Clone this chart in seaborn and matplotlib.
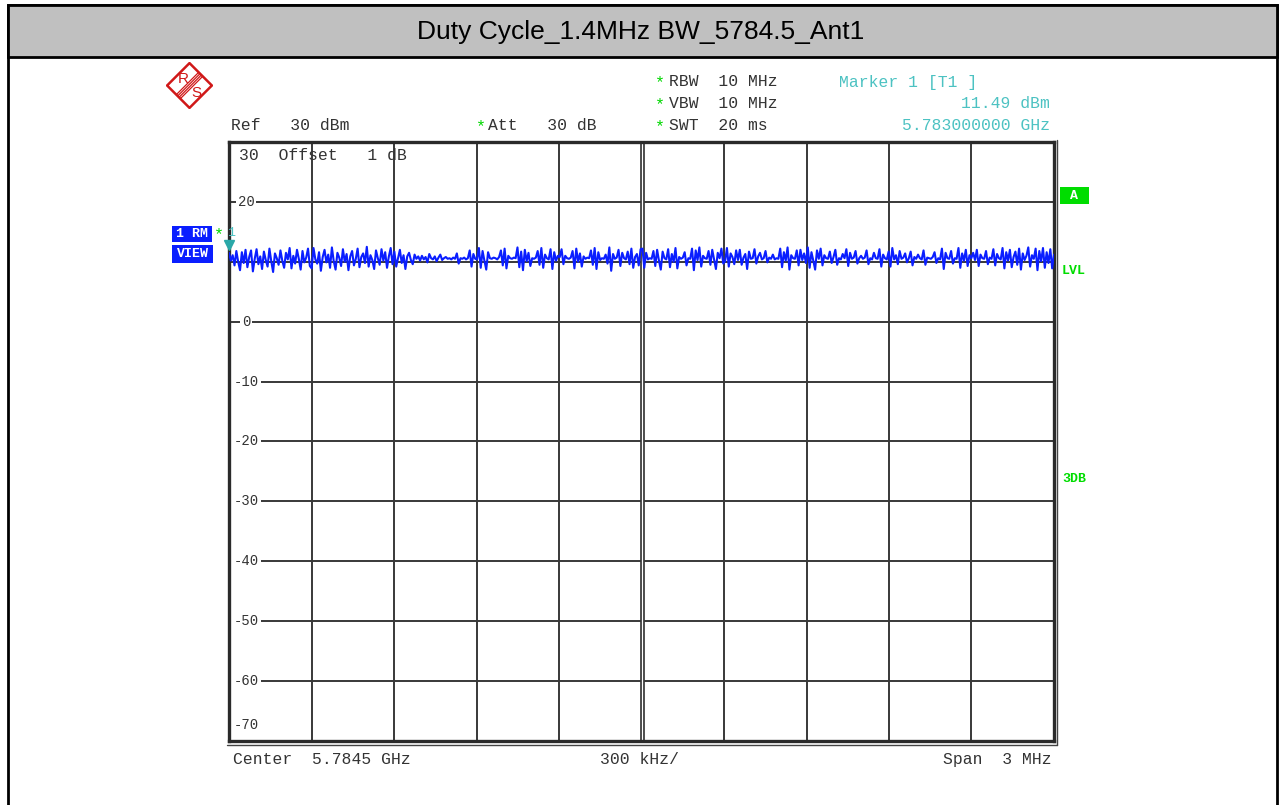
import numpy as np
import pandas as pd
import seaborn as sns
import matplotlib.pyplot as plt
import matplotlib.transforms as mtransforms
from matplotlib.patches import Rectangle, Polygon
from matplotlib.lines import Line2D

# trace levels (dBm), one list per horizontal division
trace_div1 = [11.49, 10.2, 11.1, 9.4, 11.8, 10.0, 8.6, 11.6, 9.8, 12.0, 9.1, 10.8, 11.9, 8.4, 10.5,
              12.1, 9.6, 10.9, 8.8, 11.7, 10.3, 9.2, 12.2, 10.1, 8.3, 11.4, 10.6, 9.5, 11.9, 10.2,
              9.0, 11.5, 10.4, 12.3, 8.9, 11.0, 9.7, 12.0, 10.5, 8.7, 11.8, 9.9, 10.7, 12.2, 9.3]
trace_div2 = [8.9, 12.3, 10.4, 9.7, 11.6, 8.5, 10.8, 12.0, 9.9, 11.2, 9.0, 12.4, 10.1, 8.7, 11.5,
              10.7, 9.3, 12.1, 10.0, 11.3, 8.6, 10.9, 11.8, 9.4, 10.5, 12.2, 9.1, 10.8, 11.4, 9.8,
              12.5, 9.2, 11.1, 10.3, 8.8, 11.9, 10.6, 9.5, 12.1, 10.2, 11.6, 9.0, 10.9, 12.3, 9.6]
trace_div3 = [11.7, 9.2, 10.6, 12.0, 9.8, 11.1, 8.8, 10.9, 11.5, 10.3, 9.6, 11.2, 10.5, 10.9, 10.2,
              11.0, 10.4, 10.8, 9.9, 11.3, 10.6, 10.4, 10.9, 10.1, 10.7, 11.2, 10.3, 10.6, 10.8, 10.5,
              10.6, 10.4, 10.7, 10.5, 11.4, 9.7, 10.6, 10.5, 10.7, 10.4, 10.6, 11.9, 9.2, 11.3, 10.5]
trace_div4 = [10.4, 12.3, 9.0, 11.8, 10.2, 8.7, 11.6, 10.6, 10.5, 10.7, 10.6, 10.4, 10.8, 11.9, 9.4,
              12.2, 8.9, 11.0, 10.6, 10.5, 10.7, 10.6, 12.4, 9.1, 11.7, 8.6, 12.0, 10.1, 11.5, 9.3,
              10.6, 10.5, 10.7, 11.8, 9.5, 12.3, 9.0, 11.2, 10.6, 10.4, 12.1, 8.8, 11.6, 10.2, 11.0]
trace_div5 = [10.8, 12.1, 9.6, 11.0, 10.6, 10.5, 10.7, 11.8, 8.9, 12.2, 10.0, 11.4, 9.2, 10.9, 10.5,
              10.7, 10.6, 11.9, 9.5, 12.3, 8.8, 11.6, 10.3, 10.6, 10.5, 11.2, 9.7, 12.4, 8.5, 11.3,
              10.5, 10.7, 12.0, 9.3, 11.5, 10.6, 10.4, 11.7, 9.6, 12.2, 9.0, 10.8, 11.3, 9.4, 12.1]
trace_div6 = [12.2, 9.0, 11.5, 10.4, 10.6, 10.5, 11.8, 9.3, 12.0, 10.2, 8.7, 11.7, 10.6, 10.4, 12.1,
              9.1, 11.3, 10.0, 12.3, 8.9, 10.8, 10.5, 10.7, 11.6, 9.4, 10.6, 10.5, 12.2, 8.6, 11.9,
              10.3, 12.4, 9.2, 11.0, 10.6, 10.5, 11.8, 9.5, 12.0, 10.4, 8.8, 11.5, 10.6, 12.2, 9.7]
trace_div7 = [10.1, 12.3, 9.2, 11.4, 10.8, 9.6, 11.9, 10.3, 12.0, 9.5, 10.7, 11.3, 8.8, 11.7, 10.5,
              10.6, 12.1, 9.7, 10.9, 11.5, 10.4, 10.6, 11.8, 9.9, 10.7, 10.5, 11.2, 10.4, 10.6, 10.5,
              12.2, 9.1, 11.6, 10.2, 12.4, 8.7, 11.1, 10.6, 10.5, 11.9, 9.4, 12.0, 10.3, 11.4, 9.8]
trace_div8 = [12.4, 9.0, 11.6, 10.2, 8.7, 11.9, 10.5, 12.2, 9.4, 11.1, 10.6, 10.5, 11.7, 9.8, 10.8,
              12.0, 9.5, 10.6, 10.4, 11.3, 10.6, 12.1, 9.3, 11.5, 10.5, 10.7, 11.8, 9.7, 10.6, 11.0,
              10.5, 10.7, 11.9, 9.6, 10.6, 10.4, 11.5, 10.6, 10.5, 12.1, 9.2, 11.2, 10.6, 10.4, 11.7]
trace_div9 = [9.2, 12.3, 10.4, 11.1, 9.6, 11.8, 10.5, 10.7, 11.4, 9.9, 10.6, 11.7, 9.4, 10.8, 10.5,
              11.2, 10.6, 10.4, 11.9, 9.5, 10.7, 10.6, 10.5, 10.8, 11.6, 9.8, 10.6, 10.4, 12.2, 8.8,
              11.5, 10.6, 10.5, 11.8, 9.7, 10.6, 10.5, 12.3, 9.0, 11.4, 10.2, 12.0, 9.3, 11.1, 10.6]
trace_div10 = [11.5, 10.3, 12.0, 9.3, 11.2, 10.6, 10.5, 11.8, 9.6, 10.7, 10.5, 12.1, 9.4, 11.3, 10.6,
               10.4, 12.3, 8.9, 11.6, 10.2, 12.0, 9.1, 10.8, 11.7, 9.5, 12.2, 8.7, 11.4, 10.3, 11.0,
               12.4, 9.2, 11.1, 10.5, 12.2, 8.6, 11.8, 10.1, 12.3, 9.0, 11.6, 9.8, 12.1, 8.9, 11.2]

y_grid_labels = [20, 0, -10, -20, -30, -40, -50, -60]
ref_level = 30
bottom_level = -70
marker_level = 11.49

title = "Duty Cycle_1.4MHz BW_5784.5_Ant1"

level = (trace_div1 + trace_div2 + trace_div3 + trace_div4 + trace_div5 +
         trace_div6 + trace_div7 + trace_div8 + trace_div9 + trace_div10)
df = pd.DataFrame({"point": np.arange(len(level)), "level": level})
n = len(level)

sns.set_style("white")
plt.rcParams["font.family"] = ["Liberation Mono", "DejaVu Sans Mono"]

W, H = 1279, 805
fig = plt.figure(figsize=(W / 100, H / 100), dpi=100)


def fx(x):
    return x / W


def fy(y):
    return 1 - y / H


# outer frame and title bar
fig.add_artist(Rectangle((fx(8), fy(810)), fx(1277 - 8), (810 - 5) / H, fill=False,
                         ec="black", lw=2, transform=fig.transFigure))
fig.add_artist(Rectangle((fx(8), fy(57)), fx(1277 - 8), 52 / H, fc="#c0c0c0",
                         ec="black", lw=2, transform=fig.transFigure))
fig.text(fx(641), fy(32), title, ha="center", va="center", fontsize=19,
         family=["Liberation Sans", "DejaVu Sans"], color="black")

ax = fig.add_axes([fx(229), fy(741), 825 / W, 599 / H])
sns.lineplot(data=df, x="point", y="level", ax=ax, color="#0a1eff", lw=1.5, zorder=3)
ax.set_xlim(0, n - 1)
ax.set_ylim(bottom_level, ref_level)
ax.set_xticks(np.linspace(0, n - 1, 11))
ax.set_yticks(np.arange(bottom_level, ref_level + 1, 10))
ax.tick_params(length=0, labelbottom=False, labelleft=False)
ax.set_xlabel("")
ax.set_ylabel("")
ax.grid(True, color="#383838", lw=1.4)
ax.set_axisbelow(True)
ax.axvline((n - 1) / 2, color="#383838", lw=3.4, zorder=1.5)
ax.axvline((n - 1) / 2, color="white", lw=0.9, zorder=1.6)
for s in ax.spines.values():
    s.set_linewidth(2.4)
    s.set_color("#2a2a2a")
fig.add_artist(Line2D([fx(1057), fx(1057)], [fy(140), fy(745)], color="#444", lw=1,
                      transform=fig.transFigure))
fig.add_artist(Line2D([fx(227), fx(1057)], [fy(745), fy(745)], color="#444", lw=1,
                      transform=fig.transFigure))

# level labels inside the grid
lab_x = (246 - 229) / 825
for v in y_grid_labels:
    ax.text(lab_x, v, str(v), transform=ax.get_yaxis_transform(), ha="center", va="center",
            fontsize=10, color="#333", zorder=2,
            bbox=dict(boxstyle="square,pad=0.15", fc="white", ec="none"))
ax.text(lab_x, 0.015, str(bottom_level), transform=ax.transAxes, ha="center", va="bottom",
        fontsize=10, color="#333")
ax.text((239 - 229) / 825, 1 - 14 / 599, f"{ref_level}  Offset   1 dB", transform=ax.transAxes,
        ha="left", va="center", fontsize=11.8, color="#333")

# marker 1
mk = mtransforms.offset_copy(ax.transData, fig=fig, y=5.5, units="points")
ax.plot(0, marker_level, marker="v", ms=6.5, color="#2aa8a8", clip_on=False, transform=mk,
        zorder=4)

# header texts
txt = dict(fontsize=11.8, color="#333", va="center")
green = "#00d800"
cyan = "#4cc2c2"
fig.text(fx(231), fy(125), "Ref   30 dBm", ha="left", **txt)
fig.text(fx(481), fy(127), "*", ha="center", va="center", fontsize=12, color=green)
fig.text(fx(488), fy(125), "Att   30 dB", ha="left", **txt)
for yy, s in [(81, "RBW  10 MHz"), (103, "VBW  10 MHz"), (125, "SWT  20 ms")]:
    fig.text(fx(660), fy(yy + 2), "*", ha="center", va="center", fontsize=12, color=green)
    fig.text(fx(669), fy(yy), s, ha="left", **txt)
fig.text(fx(839), fy(83), "Marker 1 [T1 ]", ha="left", fontsize=11.8, color=cyan, va="center")
fig.text(fx(1050), fy(104), f"{marker_level:.2f} dBm", ha="right", fontsize=11.8, color=cyan,
         va="center")
fig.text(fx(1050), fy(125), "5.783000000 GHz", ha="right", fontsize=11.8, color=cyan,
         va="center")

# bottom texts
fig.text(fx(233), fy(759), "Center  5.7845 GHz", ha="left", **txt)
fig.text(fx(600), fy(759), "300 kHz/", ha="left", **txt)
fig.text(fx(1052), fy(759), "Span  3 MHz", ha="right", **txt)

# left trace boxes
blue = "#0a1eff"
for (x0, y0, x1, y1, s) in [(172, 226, 212, 242, "1 RM"), (172, 245, 213, 263, "VIEW")]:
    fig.add_artist(Rectangle((fx(x0), fy(y1)), (x1 - x0) / W, (y1 - y0) / H, fc=blue, ec="none",
                             transform=fig.transFigure))
    fig.text(fx((x0 + x1) / 2), fy((y0 + y1) / 2), s, ha="center", va="center", fontsize=9.5,
             weight="bold", color="white")
fig.text(fx(219), fy(235), "*", ha="center", va="center", fontsize=12, color=green)
fig.text(fx(231), fy(233), "1", ha="center", va="center", fontsize=9.5, color=cyan)

# right labels
fig.add_artist(Rectangle((fx(1060), fy(204)), 29 / W, 17 / H, fc="#00dd00", ec="none",
                         transform=fig.transFigure))
fig.text(fx(1074.5), fy(196), "A", ha="center", va="center", fontsize=9.5, weight="bold",
         color="white")
fig.text(fx(1062), fy(271), "LVL", ha="left", va="center", fontsize=9.5, weight="bold",
         color="#00dd00")
fig.text(fx(1062), fy(479), "3DB", ha="left", va="center", fontsize=9.5, weight="bold",
         color="#00dd00")

# R&S logo
lg = fig.add_axes([fx(166), fy(109), 47 / W, 47 / H])
lg.set_xlim(-1.05, 1.05)
lg.set_ylim(-1.05, 1.05)
lg.axis("off")
red = "#d01818"
lg.add_patch(Polygon([(0, 1), (1, 0), (0, -1), (-1, 0)], closed=True, fill=False, ec=red, lw=1.8))
for d in [-0.09, -0.03, 0.03, 0.09]:
    lg.plot([0.5 + d, -0.5 + d], [0.5 - d, -0.5 - d], color=red, lw=0.9)
lg.text(-0.3, 0.3, "R", ha="center", va="center", fontsize=11, color=red,
        family=["Liberation Sans", "DejaVu Sans"])
lg.text(0.3, -0.32, "S", ha="center", va="center", fontsize=11, color=red,
        family=["Liberation Sans", "DejaVu Sans"])

fig.savefig("out.png", dpi=100)
